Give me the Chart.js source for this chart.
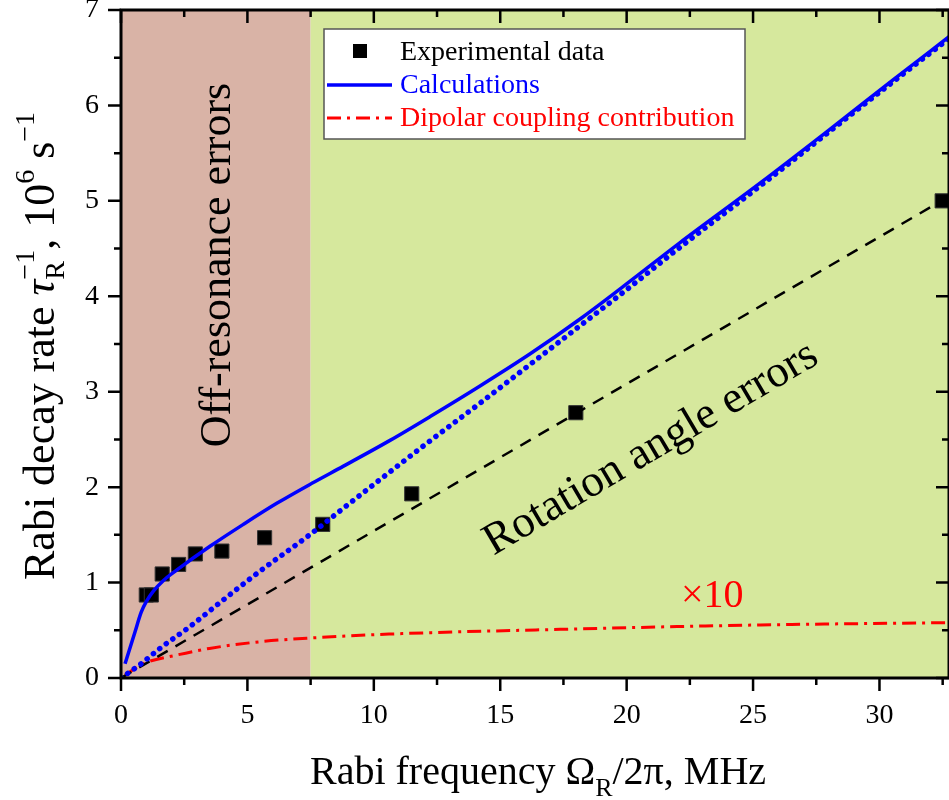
<!DOCTYPE html>
<html>
<head>
<meta charset="utf-8">
<script src="https://cdn.jsdelivr.net/npm/chart.js@4.4.1/dist/chart.umd.min.js"></script>
<style>
  html, body { margin: 0; padding: 0; background: #fff; }
</style>
</head>
<body>
<canvas id="rabiChart" width="949" height="800"></canvas>
<script>
// measured points, Rabi frequency (MHz) vs decay rate (10^6 s^-1)
const expFreq = [1.0, 1.2, 1.63, 2.28, 2.94, 3.99, 5.68, 7.98, 11.5, 17.99, 32.48];
const expRate = [0.87, 0.87, 1.09, 1.19, 1.30, 1.33, 1.47, 1.61, 1.93, 2.78, 5.00];

// full calculation (solid blue)
const calcFreq = [0.16, 0.55, 0.8, 1.0, 1.28, 1.67, 2.2, 3.52, 4.84, 6.16, 7.55, 8.8, 10.64, 12.23, 14.2, 16.2, 18.2, 20.1, 22.1, 25.3, 27.9, 30.55, 32.75];
const calcRate = [0.15, 0.48, 0.69, 0.80, 0.91, 1.02, 1.13, 1.38, 1.61, 1.83, 2.04, 2.22, 2.49, 2.74, 3.06, 3.40, 3.77, 4.15, 4.56, 5.19, 5.72, 6.27, 6.72];

// dotted blue curve
const dotFreq = [0, 0.75, 1.54, 2.73, 4.1, 5.5, 7.46, 8.8, 10.25, 12.2, 14.2, 16.2, 18.2, 20.1, 22.0, 25.3, 27.9, 30.55, 32.75];
const dotRate = [0, 0.14, 0.31, 0.54, 0.83, 1.12, 1.5, 1.78, 2.08, 2.48, 2.88, 3.29, 3.70, 4.09, 4.49, 5.16, 5.70, 6.25, 6.70];

// rotation angle errors (dashed black)
const angleFreq = [0, 32.45];
const angleRate = [0, 5.0];

// dipolar coupling contribution x10 (red dash-dot)
const dipFreq = [0.16, 0.88, 2.2, 3.5, 5.5, 7.55, 10.6, 17.37, 25.3, 32.75];
const dipRate = [0.03, 0.15, 0.24, 0.31, 0.38, 0.42, 0.46, 0.51, 0.556, 0.58];

const xLabels = [0, 5, 10, 15, 20, 25, 30];
const xMinor = [2.5, 7.5, 12.5, 17.5, 22.5, 27.5, 32.5];
const yLabels = [0, 1, 2, 3, 4, 5, 6, 7];
const yMinor = [0.5, 1.5, 2.5, 3.5, 4.5, 5.5, 6.5];
const regionSplit = 7.5;

const SERIF = "'Liberation Serif', 'Times New Roman', serif";

function toPoints(xs, ys) {
    return xs.map((x, i) => ({ x: x, y: ys[i] }));
}

function setFont(ctx, r) {
    ctx.font = `${r.italic ? 'italic ' : ''}${r.size}px ${SERIF}`;
}

// text runs with sub/superscripts, drawn left to right from (0,0)
function drawRuns(ctx, runs, draw) {
    let x = 0;
    runs.forEach(r => {
        const parts = r.stack || [r];
        let w = 0;
        parts.forEach(s => {
            setFont(ctx, s);
            if (draw) ctx.fillText(s.text, x, s.dy || 0);
            w = Math.max(w, ctx.measureText(s.text).width);
        });
        x += w;
    });
    return x;
}

const backdrop = {
    id: 'backdrop',
    beforeDraw(chart) {
        const { ctx, chartArea: a, scales: { x } } = chart;
        ctx.save();
        ctx.fillStyle = '#fff';
        ctx.fillRect(0, 0, chart.width, chart.height);
        const split = x.getPixelForValue(regionSplit);
        ctx.fillStyle = '#D9B3A6';
        ctx.fillRect(a.left, a.top, split - a.left, a.bottom - a.top);
        ctx.fillStyle = '#D6E89D';
        ctx.fillRect(split, a.top, a.right - split, a.bottom - a.top);
        ctx.restore();
    }
};

const frame = {
    id: 'frame',
    afterDatasetsDraw(chart) {
        const { ctx, chartArea: a, scales: { x, y } } = chart;
        ctx.save();
        ctx.strokeStyle = '#000';
        ctx.lineWidth = 2.5;
        ctx.beginPath();
        const xtick = (vals, len) => {
            vals.forEach(v => {
                const px = x.getPixelForValue(v);
                ctx.moveTo(px, a.bottom); ctx.lineTo(px, a.bottom + len);
                ctx.moveTo(px, a.top); ctx.lineTo(px, a.top + len);
            });
        };
        const ytick = (vals, len) => {
            vals.forEach(v => {
                const py = y.getPixelForValue(v);
                ctx.moveTo(a.left - len, py); ctx.lineTo(a.left, py);
                ctx.moveTo(a.right - len, py); ctx.lineTo(a.right, py);
            });
        };
        xtick(xLabels, 13); xtick(xMinor, 7);
        ytick(yLabels, 13); ytick(yMinor, 7);
        ctx.stroke();
        ctx.lineWidth = 3;
        ctx.strokeRect(a.left, a.top, a.right - a.left, a.bottom - a.top);

        // region labels
        ctx.fillStyle = '#000';
        ctx.font = `44px ${SERIF}`;
        ctx.textAlign = 'center';
        ctx.textBaseline = 'alphabetic';
        ctx.save();
        ctx.translate(230, 265);
        ctx.rotate(-Math.PI / 2);
        ctx.fillText('Off-resonance errors', 0, 0);
        ctx.restore();
        ctx.save();
        ctx.font = `45px ${SERIF}`;
        ctx.translate(657, 459);
        ctx.rotate(-30.6 * Math.PI / 180);
        ctx.fillText('Rotation angle errors', 0, 0);
        ctx.restore();
        ctx.fillStyle = '#FF0000';
        ctx.font = `40px ${SERIF}`;
        ctx.textAlign = 'left';
        ctx.fillText('\u00D710', 681, 607);

        // legend box
        ctx.fillStyle = '#fff';
        ctx.fillRect(324, 29, 421, 110);
        ctx.strokeStyle = '#555';
        ctx.lineWidth = 1.5;
        ctx.strokeRect(324, 29, 421, 110);
        ctx.fillStyle = '#000';
        ctx.fillRect(353, 44, 14, 14);
        ctx.lineWidth = 3.5;
        ctx.strokeStyle = '#0000FF';
        ctx.beginPath(); ctx.moveTo(327, 85); ctx.lineTo(392, 85); ctx.stroke();
        ctx.lineWidth = 3;
        ctx.strokeStyle = '#FF0000';
        ctx.setLineDash([14, 6, 3, 6]);
        ctx.beginPath(); ctx.moveTo(327, 118); ctx.lineTo(392, 118); ctx.stroke();
        ctx.setLineDash([]);
        ctx.font = `28px ${SERIF}`;
        ctx.fillStyle = '#000';
        ctx.fillText('Experimental data', 400, 60);
        ctx.fillStyle = '#0000FF';
        ctx.fillText('Calculations', 400, 93);
        ctx.fillStyle = '#FF0000';
        ctx.fillText('Dipolar coupling contribution', 400, 126);
        ctx.restore();
    },
    afterDraw(chart) {
        const { ctx } = chart;
        ctx.save();
        ctx.fillStyle = '#000';
        ctx.textAlign = 'left';
        ctx.textBaseline = 'alphabetic';

        // x axis title
        const xRuns = [
            { text: 'Rabi frequency \u03A9', size: 40 },
            { text: 'R', size: 26, dy: 12 },
            { text: '/2\u03C0, MHz', size: 40 }
        ];
        const xw = drawRuns(ctx, xRuns, false);
        ctx.save();
        ctx.translate(538 - xw / 2, 784);
        drawRuns(ctx, xRuns, true);
        ctx.restore();

        // y axis title
        const yRuns = [
            { text: 'Rabi decay rate ', size: 44 },
            { text: '\u03C4', size: 44, italic: true },
            { stack: [{ text: '\u22121', size: 28, dy: -20 }, { text: 'R', size: 28, dy: 10 }] },
            { text: ', 10', size: 44 },
            { text: '6', size: 28, dy: -20 },
            { text: ' s', size: 44 },
            { text: '\u22121', size: 28, dy: -20 }
        ];
        ctx.save();
        ctx.translate(54, 580);
        ctx.rotate(-Math.PI / 2);
        drawRuns(ctx, yRuns, true);
        ctx.restore();
        ctx.restore();
    }
};

const ctx = document.getElementById('rabiChart').getContext('2d');
new Chart(ctx, {
    type: 'line',
    data: {
        datasets: [
            {
                label: 'Calculations',
                data: toPoints(calcFreq, calcRate),
                borderColor: '#0000FF',
                borderWidth: 3.5,
                pointRadius: 0,
                cubicInterpolationMode: 'monotone'
            },
            {
                label: 'linear part',
                data: toPoints(dotFreq, dotRate),
                borderColor: '#0000FF',
                borderWidth: 5.5,
                borderDash: [0.1, 8],
                borderCapStyle: 'round',
                pointRadius: 0,
                cubicInterpolationMode: 'monotone'
            },
            {
                label: 'Rotation angle errors',
                data: toPoints(angleFreq, angleRate),
                borderColor: '#000',
                borderWidth: 2.5,
                borderDash: [12, 9],
                pointRadius: 0
            },
            {
                label: 'Dipolar coupling contribution',
                data: toPoints(dipFreq, dipRate),
                borderColor: '#FF0000',
                borderWidth: 3,
                borderDash: [14, 6, 3, 6],
                pointRadius: 0,
                cubicInterpolationMode: 'monotone'
            },
            {
                label: 'Experimental data',
                data: toPoints(expFreq, expRate),
                showLine: false,
                pointStyle: 'rect',
                pointRadius: 10,
                backgroundColor: '#000',
                borderColor: '#333',
                borderWidth: 1
            }
        ]
    },
    options: {
        responsive: false,
        animation: false,
        layout: { autoPadding: false, padding: { top: 10, left: 0, right: 0, bottom: 0 } },
        plugins: {
            legend: { display: false },
            tooltip: { enabled: false }
        },
        scales: {
            x: {
                type: 'linear',
                min: 0,
                max: 32.75,
                grid: { display: false, drawTicks: false },
                border: { display: false },
                afterBuildTicks(scale) {
                    scale.ticks = xLabels.map(v => ({ value: v }));
                },
                ticks: {
                    autoSkip: false,
                    maxRotation: 0,
                    padding: 21,
                    color: '#000',
                    font: { family: SERIF, size: 28 }
                },
                afterFit(scale) {
                    scale.height = 122;
                    scale.paddingLeft = 0;
                    scale.paddingRight = 0;
                }
            },
            y: {
                min: 0,
                max: 7,
                grid: { display: false, drawTicks: false },
                border: { display: false },
                afterBuildTicks(scale) {
                    scale.ticks = yLabels.map(v => ({ value: v }));
                },
                ticks: {
                    padding: 22,
                    color: '#000',
                    font: { family: SERIF, size: 28 }
                },
                afterFit(scale) {
                    scale.width = 121;
                    scale.paddingTop = 0;
                    scale.paddingBottom = 0;
                }
            }
        }
    },
    plugins: [backdrop, frame]
});
</script>
</body>
</html>
